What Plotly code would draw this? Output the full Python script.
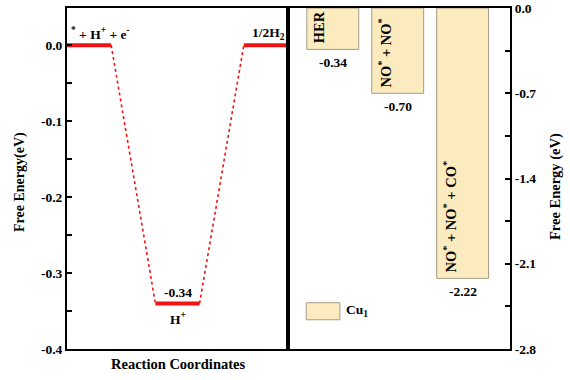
import plotly.graph_objects as go

# ---- data ----
level_x = [[0, 1], [2, 3], [4, 5]]
level_e = [0.0, -0.34, 0.0]
level_top_labels = ["<sup>*</sup> + H<sup>+</sup> + e<sup>-</sup>", "-0.34", "1/2H<sub>2</sub>"]
bar_x = [0, 1, 2]
bar_values = [-0.34, -0.70, -2.22]
bar_names = ["HER", "NO<sup>*</sup> + NO<sup>*</sup>", "NO<sup>*</sup> + NO<sup>*</sup> + CO<sup>*</sup>"]
bar_value_labels = ["-0.34", "-0.70", "-2.22"]
legend_name = "Cu<sub>1</sub>"
left_tickvals = [0.0, -0.1, -0.2, -0.3, -0.4]
left_ticktext = ["0.0", "-0.1", "-0.2", "-0.3", "-0.4"]
right_tickvals = [0.0, -0.7, -1.4, -2.1, -2.8]
right_ticktext = ["0.0", "-0.7", "-1.4", "-2.1", "-2.8"]

FONT = "Liberation Serif"
RED = "#F01414"
BAR_FILL = "#FCEBBE"
BAR_LINE = "#A39C88"

fig = go.Figure()

for xs, e in zip(level_x, level_e):
    fig.add_trace(go.Scatter(x=xs, y=[e, e], mode="lines",
                             line=dict(color=RED, width=4), showlegend=False,
                             xaxis="x", yaxis="y", hoverinfo="skip"))
for i in range(len(level_x) - 1):
    fig.add_trace(go.Scatter(x=[level_x[i][1], level_x[i + 1][0]],
                             y=[level_e[i], level_e[i + 1]], mode="lines",
                             line=dict(color=RED, width=1.6, dash="dot"),
                             showlegend=False, xaxis="x", yaxis="y", hoverinfo="skip"))

fig.add_trace(go.Bar(x=bar_x, y=bar_values, width=0.8,
                     marker=dict(color=BAR_FILL, line=dict(color=BAR_LINE, width=1)),
                     showlegend=False, xaxis="x2", yaxis="y2"))

ann = []
tf = dict(family=FONT, size=13.5, color="black")
tfb = dict(family=FONT, size=14.5, color="black")
ann.append(dict(x=0.05, y=0.0, xref="x", yref="y", text="<b>" + level_top_labels[0] + "</b>",
                showarrow=False, xanchor="left", yanchor="middle", yshift=12, font=tf))
ann.append(dict(x=2.5, y=level_e[1], xref="x", yref="y", text="<b>" + level_top_labels[1] + "</b>",
                showarrow=False, yanchor="middle", yshift=11, font=tf))
ann.append(dict(x=2.5, y=level_e[1], xref="x", yref="y", text="<b>H<sup>+</sup></b>",
                showarrow=False, yanchor="middle", yshift=-15, font=tf))
ann.append(dict(x=4.55, y=0.0, xref="x", yref="y", text="<b>" + level_top_labels[2] + "</b>",
                showarrow=False, yanchor="middle", yshift=12, font=tf))
for xv, v, nm, lb in zip(bar_x, bar_values, bar_names, bar_value_labels):
    ann.append(dict(x=xv - 0.2, y=v, xref="x2", yref="y2", text="<b>" + nm + "</b>",
                    textangle=-90, showarrow=False, yanchor="bottom", yshift=4, font=tfb))
    ann.append(dict(x=xv, y=v, xref="x2", yref="y2", text="<b>" + lb + "</b>",
                    showarrow=False, yanchor="middle", yshift=-13, font=tf))
ann.append(dict(x=0.18, y=-2.48, xref="x2", yref="y2", text="<b>" + legend_name + "</b>",
                showarrow=False, xanchor="left", yanchor="middle", font=tf))
ann.append(dict(x=0.25, y=-0.044, xref="paper", yref="paper", text="<b>Reaction Coordinates</b>",
                showarrow=False, xanchor="center", yanchor="middle",
                font=dict(family=FONT, size=14.5, color="black")))
ann.append(dict(x=-0.106, y=0.49, xref="paper", yref="paper", text="<b>Free Energy(eV)</b>",
                textangle=-90, showarrow=False, xanchor="center", yanchor="middle",
                font=dict(family=FONT, size=14, color="black")))
ann.append(dict(x=1.1016, y=0.475, xref="paper", yref="paper", text="<b>Free Energy (eV)</b>",
                textangle=-90, showarrow=False, xanchor="center", yanchor="middle",
                font=dict(family=FONT, size=14.5, color="black")))

shapes = [dict(type="rect", xref="x2", yref="y2", x0=-0.41, x1=0.11, y0=-2.42, y1=-2.56,
               fillcolor=BAR_FILL, line=dict(color=BAR_LINE, width=1))]

axis_common = dict(showline=True, linecolor="black", linewidth=2, mirror=True,
                   showgrid=False, zeroline=False, automargin=False)
split = 221 / 443
tickfont = dict(family=FONT, size=13.5, color="black", weight="bold")
fig.update_layout(
    width=570, height=380,
    margin=dict(l=67, r=60, t=8, b=31, autoexpand=False),
    paper_bgcolor="white", plot_bgcolor="white",
    font=dict(family=FONT, color="black"),
    xaxis=dict(domain=[0, split], range=[0, 5], showticklabels=False, ticks="", **axis_common),
    xaxis2=dict(domain=[split, 1], range=[-0.69, 2.73], showticklabels=False, ticks="",
                anchor="y2", **axis_common),
    yaxis=dict(range=[-0.4, 0.049], tickmode="array", tickvals=left_tickvals,
               ticktext=left_ticktext, ticks="inside",
               ticklen=5, tickwidth=2, tickcolor="black",
               minor=dict(dtick=0.05, tick0=0, ticks="inside", ticklen=5, tickwidth=2,
                          tickcolor="black"),
               tickfont=tickfont, **axis_common),
    yaxis2=dict(range=[-2.8, 0], tickmode="array", tickvals=right_tickvals,
                ticktext=right_ticktext, ticks="inside",
                side="right", anchor="x2",
                ticklen=5, tickwidth=2, tickcolor="black",
                minor=dict(dtick=0.35, tick0=0, ticks="inside", ticklen=5, tickwidth=2,
                           tickcolor="black"),
                tickfont=tickfont, **axis_common),
    annotations=ann, shapes=shapes,
)

fig.write_html("out.html", config={"displayModeBar": False},
               post_script="document.body.style.margin='0px';")
